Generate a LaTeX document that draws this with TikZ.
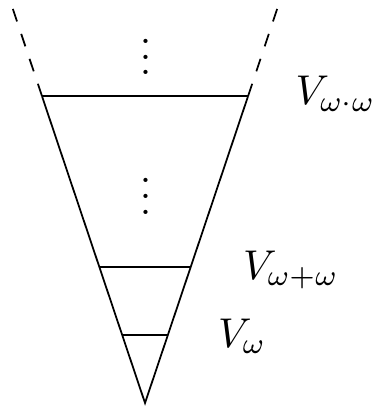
\documentclass[tikz,border=0pt]{standalone}
\begin{document}
\begin{tikzpicture}[scale=1]
  \useasboundingbox (-1.163,-0.056) rectangle (1.828,3.232);

  \coordinate (O) at (0,0);
  \coordinate (L) at (-0.826,2.46);
  \coordinate (R) at (0.826,2.46);
  \coordinate (LT) at (-1.065,3.176);
  \coordinate (RT) at (1.065,3.176);
  \coordinate (A1) at (-0.366,1.09);
  \coordinate (B1) at (0.366,1.09);
  \coordinate (A0) at (-0.183,0.545);
  \coordinate (B0) at (0.183,0.545);

  \draw (L) -- (O) -- (R);
  \draw[dashed] (L) -- (LT);
  \draw[dashed] (R) -- (RT);
  \draw (L) -- (R);
  \draw (A1) -- (B1);
  \draw (A0) -- (B0);

  \node[scale=0.9] (dtop) at (0.01,2.87) {$\vdots$};
  \node[scale=0.9] (dmid) at (0.01,1.75) {$\vdots$};

  \node[anchor=base west, inner sep=0pt, scale=0.95] (Vww) at (1.2,2.39) {$V_{\omega\cdot\omega}$};
  \node[anchor=base west, inner sep=0pt, scale=0.95] (Vwpw) at (0.78,0.994) {$V_{\omega+\omega}$};
  \node[anchor=base west, inner sep=0pt, scale=0.95] (Vw) at (0.58,0.449) {$V_{\omega}$};
\end{tikzpicture}
\end{document}
